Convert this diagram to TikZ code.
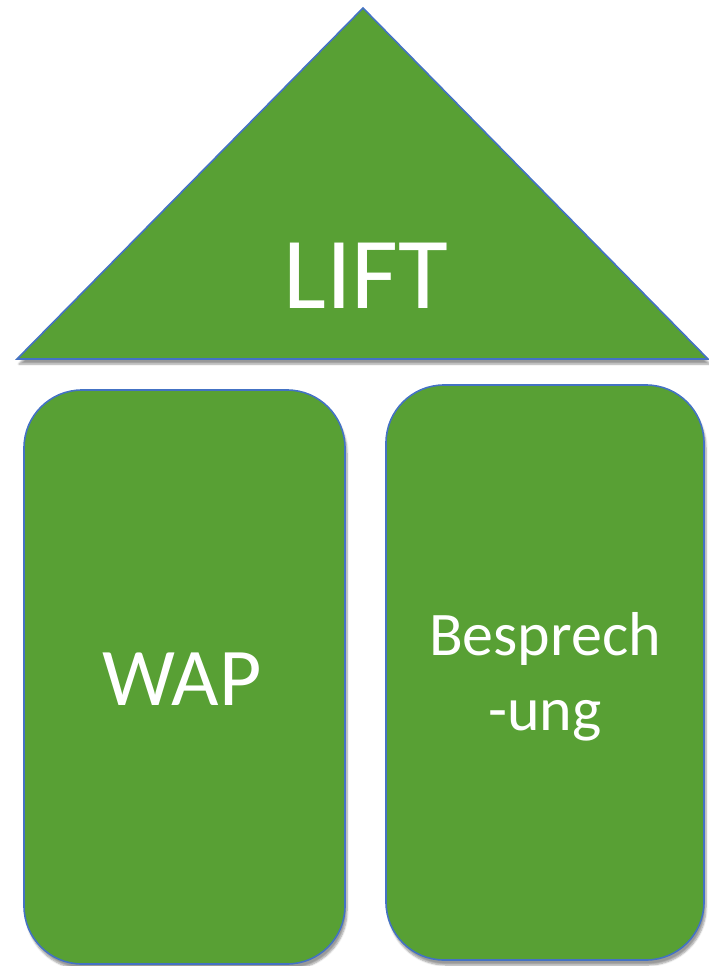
\documentclass[tikz,border=0pt]{standalone}
\usepackage{fontspec}
\setmainfont{Carlito}
\usepackage{tikz}
\usetikzlibrary{positioning}
\usetikzlibrary{shapes}
\usetikzlibrary{shadows.blur}
\usepackage{xcolor}
\definecolor{leaf}{HTML}{58A034}
\definecolor{rim}{HTML}{4472C4}
\tikzstyle{shade} = [blur shadow={shadow xshift=2pt,shadow yshift=-5pt,shadow blur steps=6,shadow opacity=40}]
\tikzstyle{roof} = [fill=leaf,draw=rim,line width=1.6pt,line join=miter,shade]
\tikzstyle{P} = [rectangle,rounded corners=58pt,fill=leaf,draw=rim,line width=1.6pt,inner sep=0pt,shade]
\tikzstyle{T} = [text=white,inner sep=0pt,anchor=base]

\begin{document}
\begin{tikzpicture}[x=1pt,y=-1pt]
  \useasboundingbox (0,0) rectangle (709,966);

  \draw [roof] (363,8) -- (17,359) -- (708,359) -- cycle;
  \node [T,font=\fontsize{102}{122}\selectfont] (n1) at (366,308) {LIFT};

  \node [P,minimum width=321pt,minimum height=574pt] (r1) at (184.5,677) {};
  \node [P,minimum width=318pt,minimum height=575pt] (r2) at (545,672.5) {};

  \node [T,font=\fontsize{82}{98}\selectfont] (n2) at (182,705) {WAP};
  \node [T,font=\fontsize{62}{74}\selectfont] (n3) at (545,655) {Besprech};
  \node [T,font=\fontsize{62}{74}\selectfont] (n4) at (545,730) {-ung};
\end{tikzpicture}
\end{document}
